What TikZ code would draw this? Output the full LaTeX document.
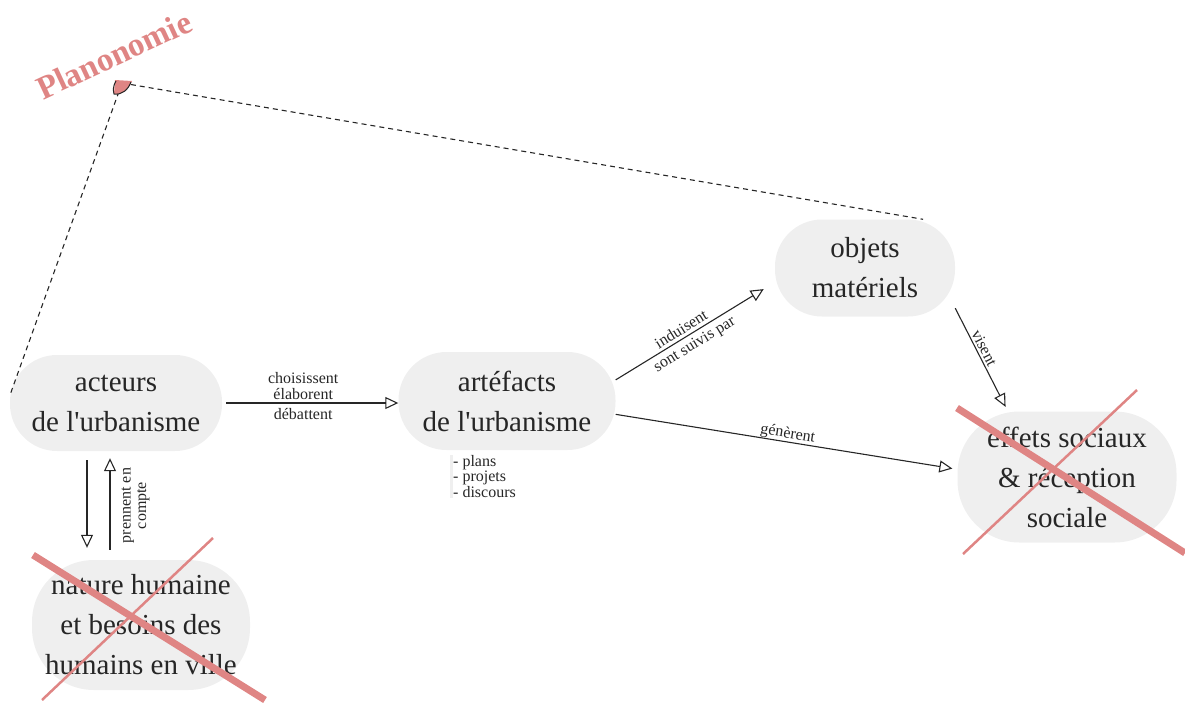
\documentclass[tikz,border=0pt]{standalone}
\usepackage{fontspec}
\setmainfont{Liberation Serif}
\usetikzlibrary{arrows.meta,positioning}

\definecolor{fondgris}{HTML}{EFEFEF}
\definecolor{rose}{HTML}{DF8584}
\definecolor{encre}{HTML}{262626}
\newcommand{\grandtexte}{\fontsize{29}{40}\selectfont}
\newcommand{\petittexte}{\fontsize{16}{15.5}\selectfont}
\newcommand{\apos}{\textquotesingle}

\tikzset{
  bulle/.style={fill=fondgris, text=encre, align=center, inner sep=0pt, font=\grandtexte},
  fleche/.style={-{Triangle[open,length=13pt,width=12pt]}, line width=1.1pt, draw=encre},
  lien/.style={line width=1.1pt, dash pattern=on 5pt off 4pt, draw=encre},
  etiquette/.style={font=\petittexte, text=encre, align=center},
  croix/.style={draw=rose, line width=#1},
}

\begin{document}
\begin{tikzpicture}[x=1pt,y=-1pt]
        \useasboundingbox (0,0) rectangle (1185,702);
        % les bulles
        \node[bulle, minimum width=212pt, minimum height=96pt, rounded corners=47pt] (acteurs) at (116,403) {acteurs\\de l\apos urbanisme};
        \node[bulle, minimum width=218pt, minimum height=130pt, rounded corners=62pt] (nature) at (141,625) {nature humaine\\et besoins des\\humains en ville};
        \node[bulle, minimum width=217pt, minimum height=98pt, rounded corners=48pt] (artefacts) at (507,401) {artéfacts\\de l\apos urbanisme};
        \node[bulle, minimum width=180pt, minimum height=97pt, rounded corners=47pt] (objets) at (865,268) {objets\\matériels};
        \node[bulle, minimum width=219pt, minimum height=131pt, rounded corners=62pt] (effets) at (1067,477) {effets sociaux\\\& réception\\sociale};
        \node[etiquette, align=left, inner sep=0pt, anchor=north west] (types) at (453,455) {- plans\\- projets\\- discours};
        \fill[fondgris] (types.north west) rectangle ([xshift=-3pt]types.south west);

        % les fleches
        \draw[fleche, shorten <=4pt] (acteurs.east) -- (acteurs.east -| artefacts.west)
            node[etiquette, above, pos=0.46, inner sep=3pt] {choisissent\\élaborent}
            node[etiquette, below, pos=0.46, inner sep=5pt] {débattent};
        \draw[fleche, shorten <=9pt, shorten >=12pt] ([xshift=-29pt]acteurs.south) -- ([xshift=-29pt]acteurs.south |- nature.north);
        \draw[fleche, shorten <=10pt, shorten >=7pt] ([xshift=-6pt]acteurs.south |- nature.north) -- ([xshift=-6pt]acteurs.south)
            node[etiquette, midway, sloped, below, inner sep=11pt] {prennent en\\compte};
        \draw[fleche, shorten >=13pt] (artefacts.11) -- (objets.189)
            node[etiquette, pos=0.44, sloped, above, inner sep=3pt] {induisent}
            node[etiquette, pos=0.46, sloped, below, inner sep=4pt] {sont suivis par};
        \draw[fleche, shorten >=5pt] (artefacts.-7) -- (effets.176)
            node[etiquette, midway, sloped, above, inner sep=0pt] {génèrent};
        \draw[fleche, shorten >=5pt] (objets.-24) -- (effets.132)
            node[etiquette, pos=0.42, sloped, above, inner sep=2pt] {visent};

        % planonomie
        \coordinate (epingle) at (122,83);
        \draw[lien] (epingle) -- (objets.40);
        \draw[lien] (epingle) -- (acteurs.176);
        \fill[rose] (115,80) -- (132,81) .. controls (128,91) and (121,95) .. (114,94) -- cycle;
        \draw[encre, line width=1pt] (116,81) .. controls (113,86) and (113,90) .. (114,94) .. controls (122,95) and (128,90) .. (131,82);
        \node[rotate=25, text=rose, font=\fontsize{33}{33}\selectfont\bfseries] (planonomie) at (114,55) {Planonomie};

        % les croix
        \draw[croix=7pt] (33,555) -- (265,700);
        \draw[croix=2.5pt] (213,538) -- (42,700);
        \draw[croix=7pt] (957,408) -- (1185,553);
        \draw[croix=2.5pt] (1137,390) -- (963,554);
    \end{tikzpicture}
\end{document}
